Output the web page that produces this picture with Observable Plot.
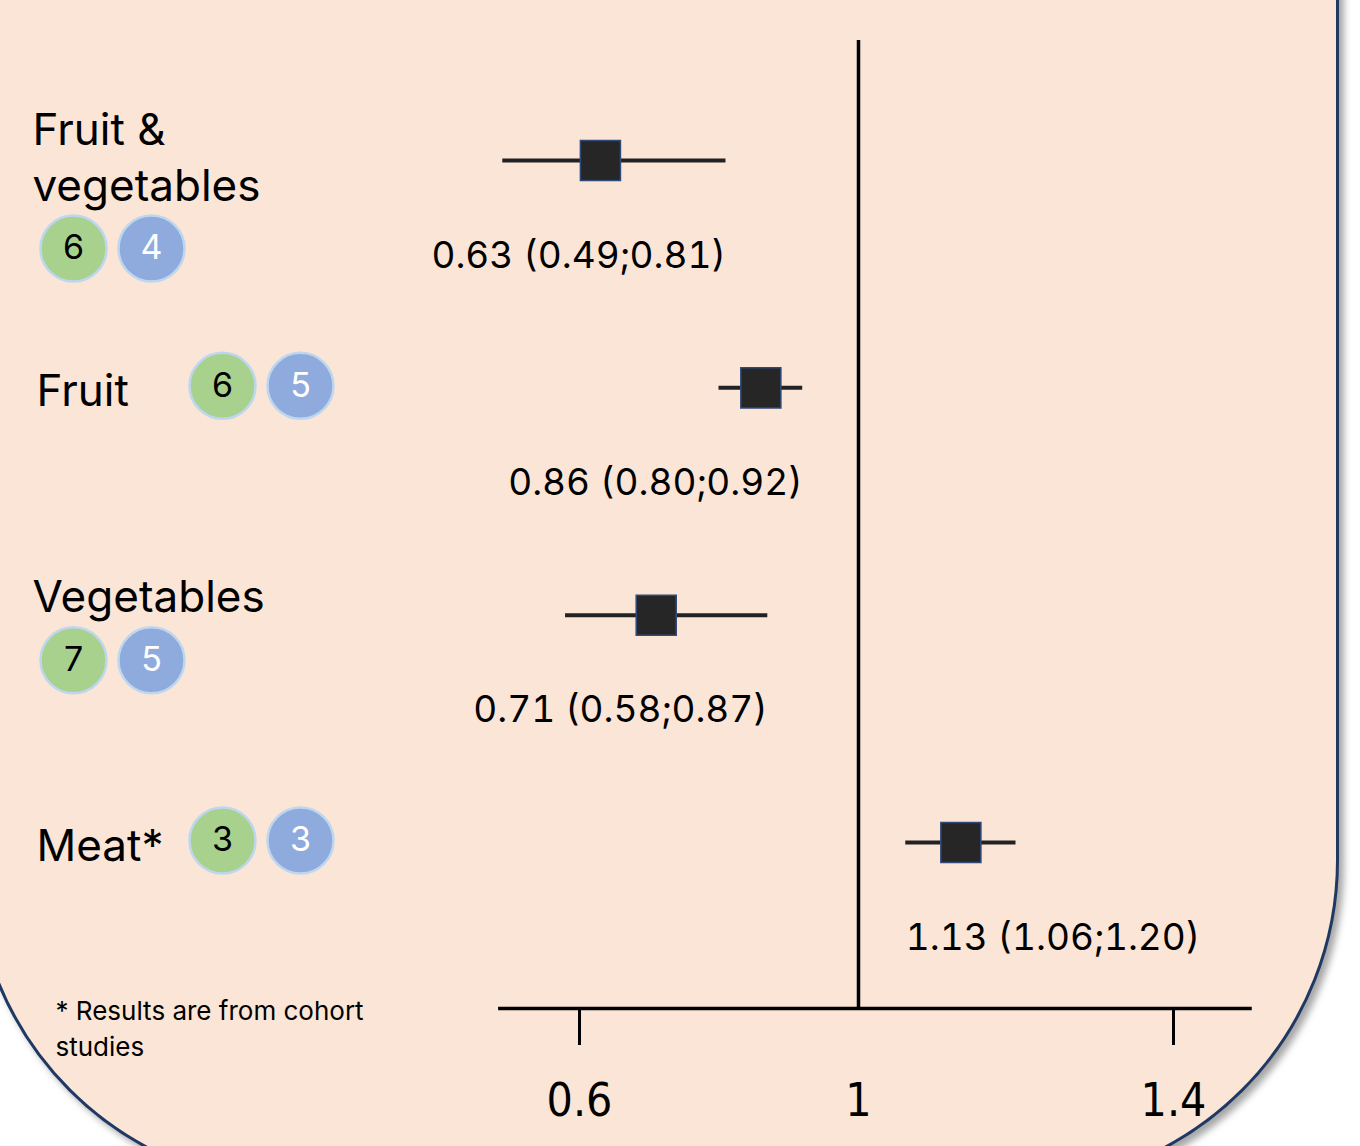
<!DOCTYPE html>
<html>
<head>
<meta charset="utf-8">
<script src="https://cdn.jsdelivr.net/npm/d3@7"></script>
<script src="https://cdn.jsdelivr.net/npm/@observablehq/plot@0.6"></script>
<style>
  html, body { margin: 0; padding: 0; background: #ffffff; overflow: hidden; }
  #stage { position: relative; width: 1360px; height: 1146px; overflow: hidden; }
  #panel {
    position: absolute; box-sizing: border-box;
    left: -27px; top: -380px; width: 1366px; height: 1567px;
    border: 3px solid #1F3864; border-radius: 327px;
    background: #FBE5D6;
    box-shadow: 5px 5px 7px rgba(0,0,0,0.35);
  }
  #chart { position: absolute; left: 0; top: 0; }
</style>
</head>
<body>
<div id="stage"><div id="panel"></div><div id="chart"></div></div>
<script>
// ---- data ----
const categories = ["Fruit & vegetables", "Fruit", "Vegetables", "Meat*"];
const estimates  = [0.63, 0.86, 0.71, 1.13];
const lowerCI    = [0.49, 0.80, 0.58, 1.06];
const upperCI    = [0.81, 0.92, 0.87, 1.20];
const greenCounts = [6, 6, 7, 3];
const blueCounts  = [4, 5, 5, 3];
const xTicks = [0.6, 1, 1.4];
const nullValue = 1;
const footnote = "* Results are from cohort\nstudies";

// ---- layout ----
const W = 1360, H = 1146, M_TOP = 40, M_BOTTOM = 138;
// the original axis is drawn slightly wider above 1 than below it
const RIGHT_STRETCH = 315 / 279;
const warp = v => v <= nullValue ? v : nullValue + (v - nullValue) * RIGHT_STRETCH;
const X_DOMAIN = [warp(xTicks[0]), warp(xTicks[xTicks.length - 1])];
const X_RANGE = [579, 1173];
const Y_DOMAIN = [-0.528, 3.730];
const ROW_PX = (H - M_TOP - M_BOTTOM) / (Y_DOMAIN[1] - Y_DOMAIN[0]);
const px = v => v / ROW_PX;
const AXIS_EXTENT = [0.484, 1.5];
const fmt = d3.format(".2f");
const FONT = "Inter, 'Open Sans', sans-serif";
const NARROW = "'Liberation Sans Narrow', 'DejaVu Sans Condensed', 'Liberation Sans', sans-serif";

const rows = categories.map((c, i) => {
  const lines = c.length > 12 ? c.replace(/ (\S+)$/, "\n$1") : c;
  const n = lines.split("\n").length;
  return {
    row: i, label: lines, nLines: n, est: estimates[i], lo: lowerCI[i], hi: upperCI[i],
    green: greenCounts[i], blue: blueCounts[i],
    stacked: c.length > 6,
    text: `${fmt(estimates[i])} (${fmt(lowerCI[i])};${fmt(upperCI[i])})`
  };
});
const stackedRows = rows.filter(d => d.stacked);
const inlineRows = rows.filter(d => !d.stacked);
const lastBaseline = d => -3 + (d.nLines - 1) * 43;

function badges(data, yf, x0) {
  const gap = 78;
  const out = [];
  [["green", "#A9D18E", "#000000"], ["blue", "#8FAADC", "#ffffff"]].forEach(([key, fill, color], k) => {
    out.push(Plot.dot(data, {y: yf, frameAnchor: "left", dx: x0 + k * gap, r: 33,
      fill, stroke: "#BDD7EE", strokeWidth: 2.5}));
    out.push(Plot.text(data, {y: yf, frameAnchor: "left", dx: x0 + k * gap, text: d => String(d[key]),
      fill: color, fontSize: 34, fontFamily: FONT, textAnchor: "middle", lineAnchor: "middle"}));
  });
  return out;
}

const chart = Plot.plot({
  width: W, height: H,
  marginTop: M_TOP, marginBottom: M_BOTTOM, marginLeft: 0, marginRight: 0,
  x: {type: "linear", domain: X_DOMAIN, range: X_RANGE, axis: null},
  y: {type: "linear", domain: Y_DOMAIN, range: [M_TOP, H - M_BOTTOM], axis: null},
  style: {background: "transparent", fontFamily: FONT, overflow: "visible"},
  marks: [
    // null line and axis
    Plot.ruleX([nullValue], {x: d => warp(d), stroke: "#000", strokeWidth: 3.5}),
    Plot.ruleY([Y_DOMAIN[1]], {y: d => d, x1: () => warp(AXIS_EXTENT[0]), x2: () => warp(AXIS_EXTENT[1]), stroke: "#000", strokeWidth: 3.5}),
    Plot.ruleX(xTicks.filter(t => t !== nullValue), {x: d => warp(d), y1: () => Y_DOMAIN[1], y2: () => Y_DOMAIN[1] + px(37), stroke: "#000", strokeWidth: 3}),
    Plot.text(xTicks, {x: d => warp(d), y: () => Y_DOMAIN[1] + px(75), text: d => String(d), lineAnchor: "top",
      fontSize: 46, fontFamily: NARROW, fill: "#000"}),
    // whiskers and estimates
    Plot.ruleY(rows, {y: "row", x1: d => warp(d.lo), x2: d => warp(d.hi), stroke: "#222", strokeWidth: 4}),
    Plot.dot(rows, {y: "row", x: d => warp(d.est), symbol: "square", r: 22.6, fill: "#262626", stroke: "#2F4A7A", strokeWidth: 1.5}),
    // value labels: anchored at the CI bound nearest the null line
    Plot.text(rows.filter(d => d.est < nullValue), {x: d => warp(d.hi), y: d => d.row + px(107), text: "text",
      textAnchor: "end", lineAnchor: "bottom", fontSize: 37, fontVariant: "tabular-nums", fontFamily: FONT, fill: "#000"}),
    Plot.text(rows.filter(d => d.est > nullValue), {x: d => warp(d.lo), y: d => d.row + px(107), text: "text",
      textAnchor: "start", lineAnchor: "bottom", fontSize: 37, fontVariant: "tabular-nums", fontFamily: FONT, fill: "#000"}),
    // category labels
    Plot.text(stackedRows, {frameAnchor: "left", dx: 32, y: d => d.row + px(lastBaseline(d)), text: "label",
      textAnchor: "start", lineAnchor: "bottom", lineHeight: 1.27, fontSize: 44, fontFamily: FONT, fill: "#000"}),
    Plot.text(inlineRows, {frameAnchor: "left", dx: 36, y: d => d.row + px(4), text: "label",
      textAnchor: "start", lineAnchor: "middle", fontSize: 44, fontFamily: FONT, fill: "#000"}),
    ...badges(stackedRows, d => d.row + px(lastBaseline(d) + 48), 73),
    ...badges(inlineRows, d => d.row + px(-2), 222),
    // footnote
    Plot.text([footnote], {frameAnchor: "left", dx: 55, y: () => Y_DOMAIN[1] + px(-14), text: d => d,
      textAnchor: "start", lineAnchor: "top", lineHeight: 1.38, fontSize: 26, fontFamily: FONT, fill: "#000"})
  ]
});
document.getElementById("chart").appendChild(chart);
</script>
</body>
</html>
